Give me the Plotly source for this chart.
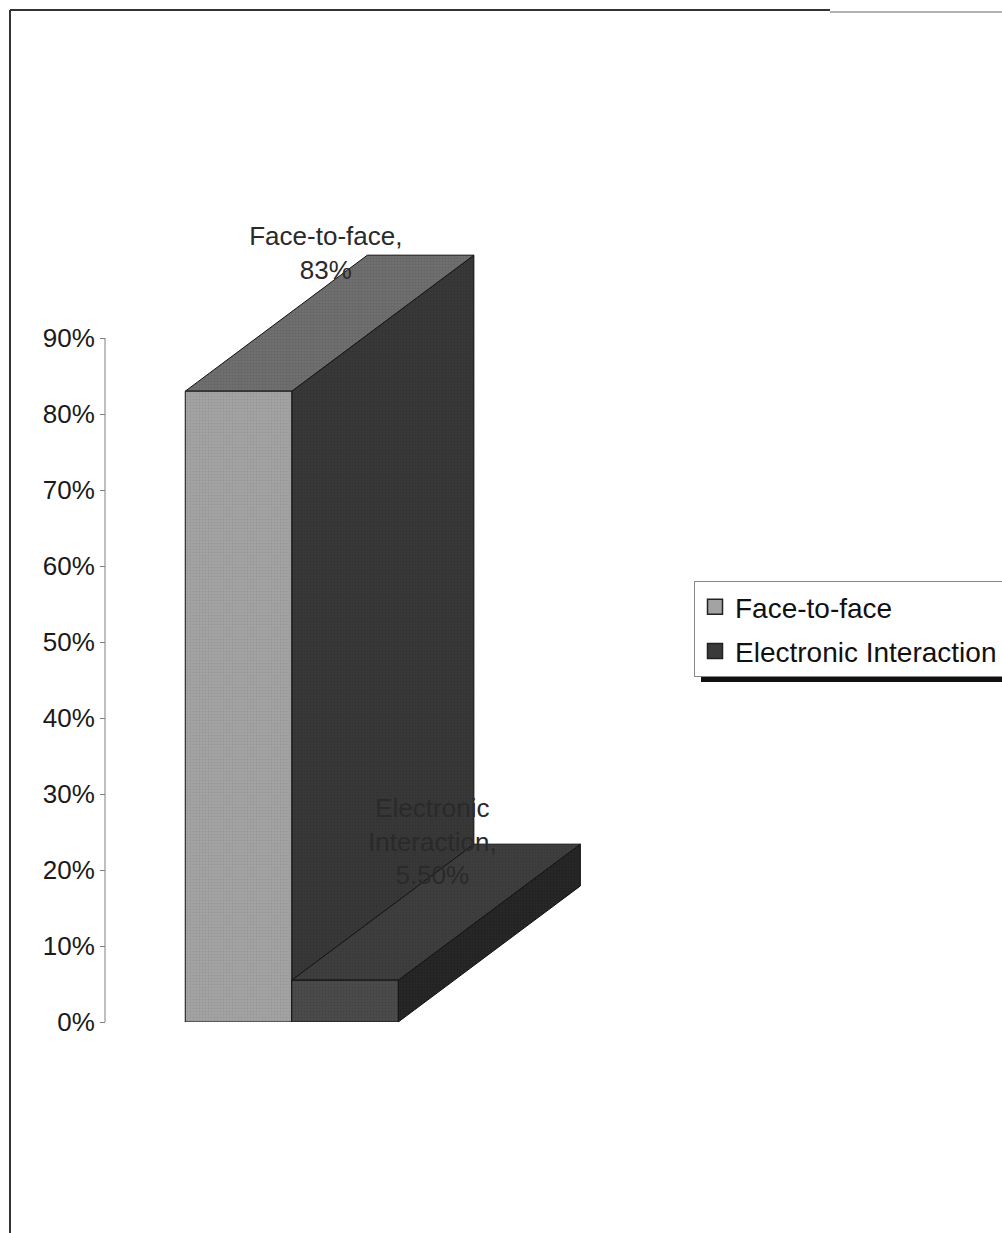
import plotly.graph_objects as go

# ---- data ----
categories = ["Face-to-face", "Electronic Interaction"]
values = [0.83, 0.055]
label_texts = ["Face-to-face,<br>83%", "Electronic<br>Interaction,<br>5.50%"]
tick_vals = [0, 0.1, 0.2, 0.3, 0.4, 0.5, 0.6, 0.7, 0.8, 0.9]
tick_text = ["0%", "10%", "20%", "30%", "40%", "50%", "60%", "70%", "80%", "90%"]

# ---- style ----
front_colors = ["#a3a3a3", "#4b4b4b"]
front_dots = ["#8a8a8a", "#3a3a3a"]
top_colors = ["#6f6f6f", "#3e3e3e"]
top_dots = ["#5c5c5c", "#313131"]
side_colors = ["#383838", "#262626"]
side_dots = ["#2c2c2c", "#1c1c1c"]
legend_colors = ["#a3a3a3", "#3a3a3a"]
DX, DY = 1.71, 0.179   # 3-D depth projection (category units, value units)
LBL_DX = 0.82          # label horizontal offset from bar centre
BW = 1.0               # bar width (gap 0)
FONT = "Liberation Sans, Arial, sans-serif"
W, H = 1002, 1233

fig = go.Figure()
edge = dict(color="#111111", width=1)


def pat(fg, bg):
    return dict(shape=".", fgcolor=fg, bgcolor=bg, size=3, solidity=0.35)


for i, (cat, v) in enumerate(zip(categories, values)):
    c = i
    x0, x1 = c - BW / 2, c + BW / 2
    # side face
    fig.add_trace(go.Scatter(
        x=[x1, x1 + DX, x1 + DX, x1, x1], y=[0, DY, v + DY, v, 0],
        fill="toself", fillcolor=side_colors[i],
        fillpattern=pat(side_dots[i], side_colors[i]),
        mode="lines", line=edge, showlegend=False, hoverinfo="skip"))
    # top face
    fig.add_trace(go.Scatter(
        x=[x0, x1, x1 + DX, x0 + DX, x0], y=[v, v, v + DY, v + DY, v],
        fill="toself", fillcolor=top_colors[i],
        fillpattern=pat(top_dots[i], top_colors[i]),
        mode="lines", line=edge, showlegend=False, hoverinfo="skip"))
    # front face
    fig.add_trace(go.Scatter(
        x=[x0, x1, x1, x0, x0], y=[0, 0, v, v, 0],
        fill="toself", fillcolor=front_colors[i],
        fillpattern=pat(front_dots[i], front_colors[i]),
        mode="lines", line=edge, showlegend=False, hoverinfo="skip"))

# data labels
fig.add_trace(go.Scatter(
    x=[i + LBL_DX for i in range(len(values))],
    y=[v + DY for v in values],
    mode="text", text=label_texts, textposition="middle center",
    textfont=dict(family=FONT, size=26, color="#2a2a2a"),
    showlegend=False, hoverinfo="skip"))

# legend entries
for i, cat in enumerate(categories):
    fig.add_trace(go.Scatter(
        x=[None], y=[None], mode="markers", name=cat, legendgroup=cat,
        marker=dict(symbol="square", size=15, color=legend_colors[i],
                    line=dict(color="#222222", width=1.5))))

px_per_cat = 106.5
c0_px = 238.5
y0_px, px_per_unit = 1022, 760
ymax = 1.2

fig.update_layout(
    width=W, height=H,
    margin=dict(l=0, r=0, t=0, b=0, autoexpand=False),
    paper_bgcolor="white", plot_bgcolor="rgba(0,0,0,0)",
    font=dict(family=FONT, color="#1a1a1a"),
    xaxis=dict(range=[-c0_px / px_per_cat, (W - c0_px) / px_per_cat],
               domain=[0, 1], visible=False, fixedrange=True),
    yaxis=dict(range=[0, ymax],
               domain=[1 - y0_px / H, 1 - (y0_px - ymax * px_per_unit) / H],
               anchor="free", position=105 / W,
               tickvals=tick_vals, ticktext=tick_text,
               ticks="outside", ticklen=5, tickcolor="#808080", tickwidth=1,
               showline=False, showgrid=False, zeroline=False,
               tickfont=dict(family=FONT, size=26, color="#1a1a1a")),
    legend=dict(x=694 / W, y=1 - 581 / H, xanchor="left", yanchor="top",
                bgcolor="white", bordercolor="#888888", borderwidth=1,
                font=dict(family=FONT, size=28, color="#111111"),
                tracegroupgap=5),
    showlegend=True,
    shapes=[
        # y axis line (0% to 90%)
        dict(type="line", xref="paper", yref="y", x0=105 / W, x1=105 / W,
             y0=0, y1=0.9, line=dict(color="#808080", width=1)),
        # frame
        dict(type="line", xref="paper", yref="paper", x0=10 / W, x1=830 / W,
             y0=1 - 10 / H, y1=1 - 10 / H, line=dict(color="#333333", width=2)),
        dict(type="line", xref="paper", yref="paper", x0=830 / W, x1=1,
             y0=1 - 12 / H, y1=1 - 12 / H, line=dict(color="#999999", width=1.5)),
        dict(type="line", xref="paper", yref="paper", x0=10 / W, x1=10 / W,
             y0=0, y1=1 - 10 / H, line=dict(color="#333333", width=2)),
        # legend shadow
        dict(type="rect", xref="paper", yref="paper", x0=701 / W, x1=1,
             y0=1 - 682 / H, y1=1 - 668 / H, fillcolor="#111111",
             line=dict(width=0), layer="below"),
    ],
)

fig.write_html("out.html")
